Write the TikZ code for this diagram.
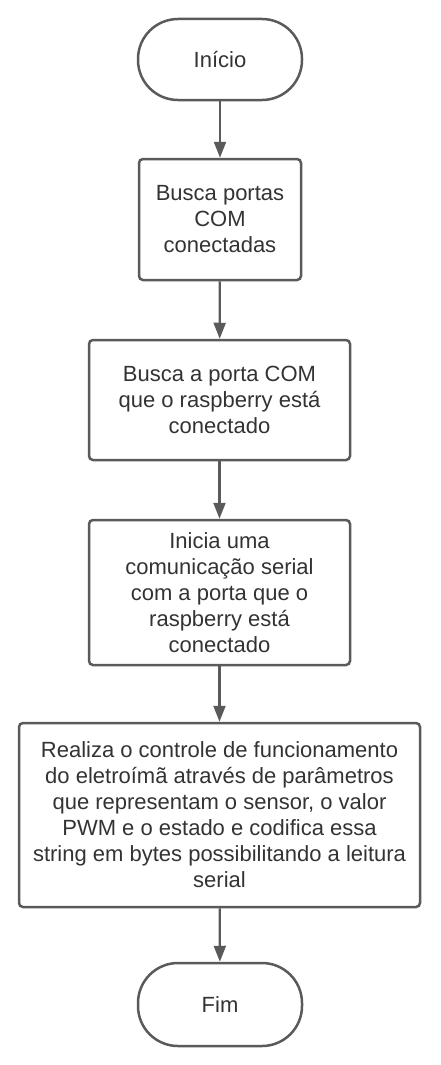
\documentclass[tikz,border=0pt]{standalone}
\usepackage{fontspec}
\setmainfont{Liberation Sans}
\usetikzlibrary{arrows.meta}
\definecolor{edgegray}{HTML}{5A5A5A}
\definecolor{textgray}{HTML}{333333}
\tikzset{
  base/.style={draw=edgegray, line width=2.5pt, fill=white, text=textgray, align=center, inner sep=0pt,
    font=\fontsize{22pt}{26pt}\selectfont},
  procbox/.style={base, rounded corners=4pt},
  termbox/.style={base, rounded corners=40pt},
  flow/.style={draw=edgegray, line width=2.2pt, -{Triangle[length=16pt,width=12pt]}}
}
\begin{document}
\begin{tikzpicture}[x=1pt,y=-1pt]
\useasboundingbox (0,0) rectangle (440,1065);
\node[termbox, minimum width=164pt, minimum height=81pt] (start) at (220,59.5) {Início};
\node[procbox, minimum width=162pt, minimum height=121pt] (b2) at (220,219.5) {Busca portas\\COM\\conectadas};
\node[procbox, minimum width=261pt, minimum height=120pt] (b3) at (219.5,400) {Busca a porta COM\\que o raspberry está\\conectado};
\node[procbox, minimum width=261pt, minimum height=145pt] (b4) at (219.5,592.5) {Inicia uma\\comunicação serial\\com a porta que o\\raspberry está\\conectado};
\node[procbox, minimum width=401pt, minimum height=184pt] (b5) at (219.5,815) {Realiza o controle de funcionamento\\do eletroímã através de parâmetros\\que representam o sensor, o valor\\PWM e o estado e codifica essa\\string em bytes possibilitando a leitura\\serial};
\node[termbox, minimum width=164pt, minimum height=83pt] (end) at (220,1004.5) {Fim};
\draw[flow] (start) -- (b2);
\draw[flow] (b2) -- (b3);
\draw[flow] (b3) -- (b4);
\draw[flow] (b4) -- (b5);
\draw[flow] (b5) -- (end);
\end{tikzpicture}
\end{document}
